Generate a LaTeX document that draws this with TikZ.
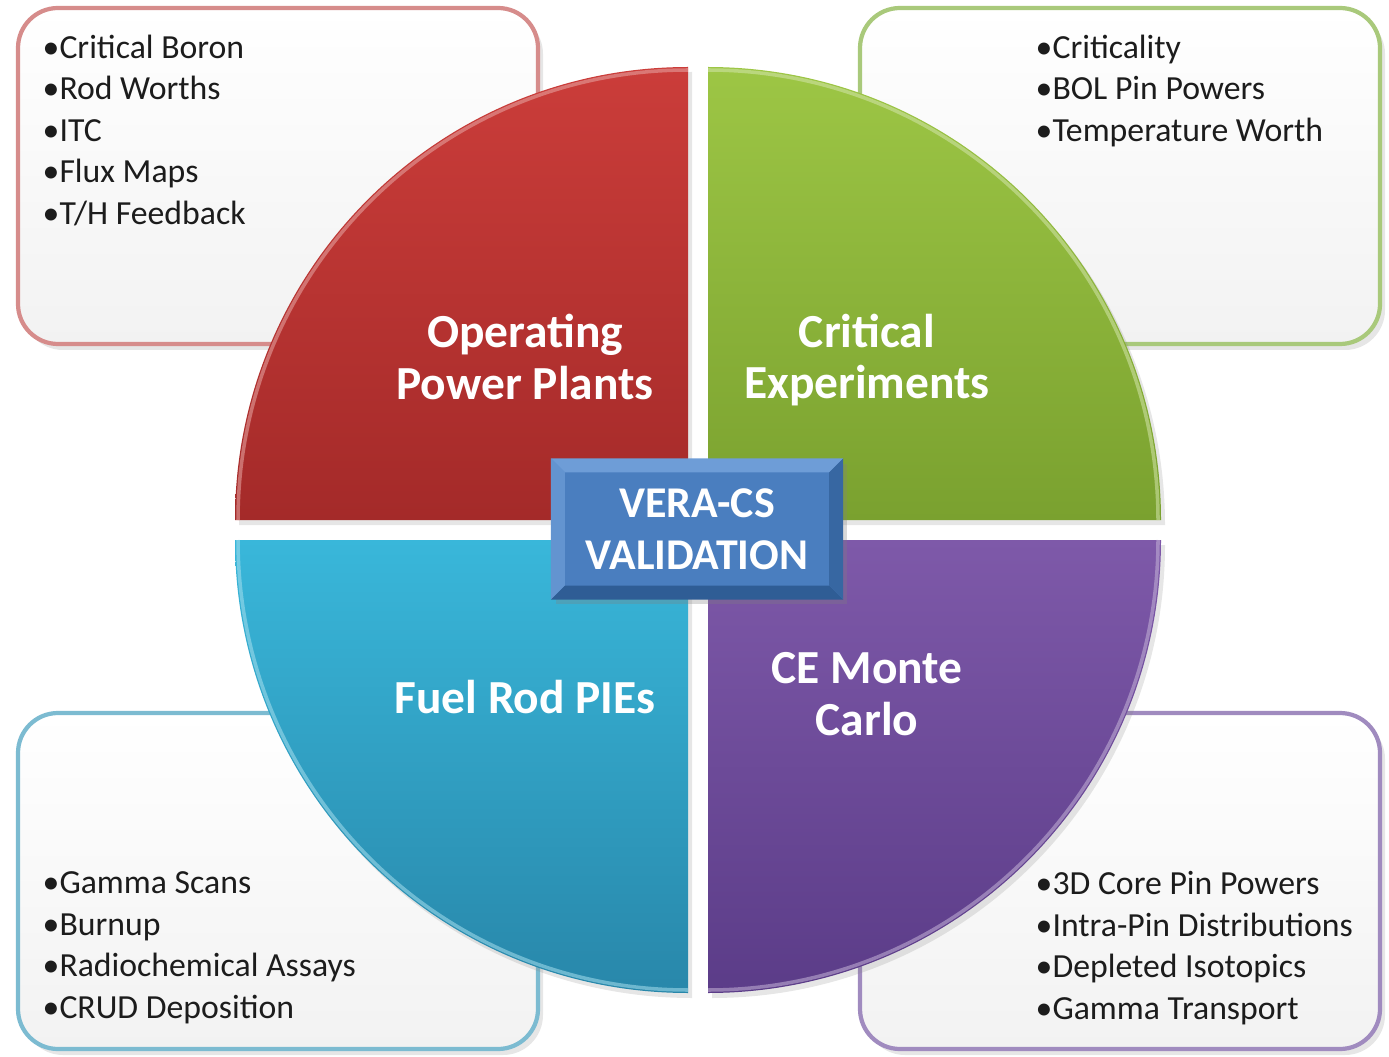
\documentclass[tikz,border=0pt]{standalone}
\usepackage{fontspec}
\setmainfont{Carlito}
\usetikzlibrary{calc,shadows}

\definecolor{redtop}{HTML}{CB3D3A}
\definecolor{redbot}{HTML}{A42A29}
\definecolor{greentop}{HTML}{9DC645}
\definecolor{greenbot}{HTML}{7AA12F}
\definecolor{cyantop}{HTML}{39B7DA}
\definecolor{cyanbot}{HTML}{2887AA}
\definecolor{purptop}{HTML}{7E59A9}
\definecolor{purpbot}{HTML}{5B3C88}
\definecolor{redline}{HTML}{D68C8B}
\definecolor{greenline}{HTML}{A9C97B}
\definecolor{cyanline}{HTML}{7CBBD1}
\definecolor{purpline}{HTML}{A08BBF}
\definecolor{boxgray}{HTML}{F2F2F2}
\definecolor{listtext}{HTML}{1C1C1C}
\definecolor{veraBlue}{HTML}{4A7EBF}
\definecolor{veraLight}{HTML}{6E9DD7}
\definecolor{veraDark}{HTML}{2F5D95}

\tikzset{
  listbox/.style={draw=#1, line width=1.2pt, rounded corners=0.4cm,
    top color=white, bottom color=boxgray,
    minimum width=5.2cm, minimum height=3.36cm,
    drop shadow={shadow xshift=0.05cm, shadow yshift=-0.06cm, opacity=0.2}},
  itemlist/.style={align=left, inner sep=0pt, text=listtext,
    font=\fontsize{9.6}{11.8}\selectfont},
  quadlabel/.style={align=center, text=white,
    font=\bfseries\fontsize{13.5}{14.6}\selectfont},
  quadrant/.style 2 args={top color=#1, bottom color=#2,
    drop shadow={shadow xshift=0.04cm, shadow yshift=-0.05cm, opacity=0.2}},
  rim/.style={draw=#1, line width=1pt, opacity=0.55},
}

\begin{document}
\begin{tikzpicture}
  \useasboundingbox (0,0) rectangle (13.89,10.56);

  % corner boxes behind the disc
  \node[listbox=redline] (opbox) at (2.78,8.80) {};
  \node[listbox=greenline] (critbox) at (11.20,8.80) {};
  \node[listbox=cyanline] (fuelbox) at (2.78,1.75) {};
  \node[listbox=purpline] (mcbox) at (11.20,1.75) {};

  \node[itemlist, anchor=north west] (oplist) at (0.42,10.22)
    {\textbullet Critical Boron\\\textbullet Rod Worths\\\textbullet ITC\\
     \textbullet Flux Maps\\\textbullet T/H Feedback};
  \node[itemlist, anchor=north west] (critlist) at (10.35,10.22)
    {\textbullet Criticality\\\textbullet BOL Pin Powers\\\textbullet Temperature Worth};
  \node[itemlist, anchor=north west] (fuellist) at (0.42,1.85)
    {\textbullet Gamma Scans\\\textbullet Burnup\\\textbullet Radiochemical Assays\\
     \textbullet CRUD Deposition};
  \node[itemlist, anchor=north west] (mclist) at (10.35,1.85)
    {\textbullet 3D Core Pin Powers\\\textbullet Intra-Pin Distributions\\
     \textbullet Depleted Isotopics\\\textbullet Gamma Transport};

  % the four quarters of the disc
  \shade[quadrant={redtop}{redbot}] (6.88,5.36) -- (2.35,5.36)
    arc[start angle=180, end angle=90, radius=4.53] -- cycle;
  \shade[quadrant={greentop}{greenbot}] (7.08,5.36) -- (7.08,9.89)
    arc[start angle=90, end angle=0, radius=4.53] -- cycle;
  \shade[quadrant={cyantop}{cyanbot}] (6.88,5.16) -- (2.35,5.16)
    arc[start angle=180, end angle=270, radius=4.53] -- cycle;
  \shade[quadrant={purptop}{purpbot}] (7.08,5.16) -- (11.61,5.16)
    arc[start angle=0, end angle=-90, radius=4.53] -- cycle;

  % light rim along each arc
  \draw[rim=redtop!45!white] (2.38,5.36) arc[start angle=180, end angle=90, radius=4.50];
  \draw[rim=greentop!45!white] (7.08,9.86) arc[start angle=90, end angle=0, radius=4.50];
  \draw[rim=cyantop!45!white] (2.38,5.16) arc[start angle=180, end angle=270, radius=4.50];
  \draw[rim=purptop!45!white] (11.58,5.16) arc[start angle=0, end angle=-90, radius=4.50];

  \node[quadlabel] (oplabel) at (5.25,6.99) {Operating\\Power Plants};
  \node[quadlabel] (critlabel) at (8.67,6.96) {Critical\\Experiments};
  \node[quadlabel] (fuellabel) at (5.25,3.59) {Fuel Rod PIEs};
  \node[quadlabel] (mclabel) at (8.67,3.62) {CE Monte\\Carlo};

  % bevelled box in the middle
  \node[fill=veraBlue, minimum width=2.91cm, minimum height=1.40cm,
    drop shadow={shadow xshift=0.04cm, shadow yshift=-0.05cm, opacity=0.3}] (verabox) at (6.97,5.27) {};
  \fill[veraLight] (verabox.north west) -- (verabox.north east)
    -- ($(verabox.north east)+(-0.14,-0.14)$) -- ($(verabox.north west)+(0.14,-0.14)$) -- cycle;
  \fill[veraLight!70!veraBlue] (verabox.north west) -- (verabox.south west)
    -- ($(verabox.south west)+(0.14,0.14)$) -- ($(verabox.north west)+(0.14,-0.14)$) -- cycle;
  \fill[veraDark] (verabox.south west) -- (verabox.south east)
    -- ($(verabox.south east)+(-0.14,0.14)$) -- ($(verabox.south west)+(0.14,0.14)$) -- cycle;
  \fill[veraDark!70!veraBlue] (verabox.north east) -- (verabox.south east)
    -- ($(verabox.south east)+(-0.14,0.14)$) -- ($(verabox.north east)+(-0.14,-0.14)$) -- cycle;
  \node[quadlabel, font=\bfseries\fontsize{12.5}{14.8}\selectfont] (veralabel)
    at (verabox.center) {VERA-CS\\VALIDATION};
\end{tikzpicture}
\end{document}
